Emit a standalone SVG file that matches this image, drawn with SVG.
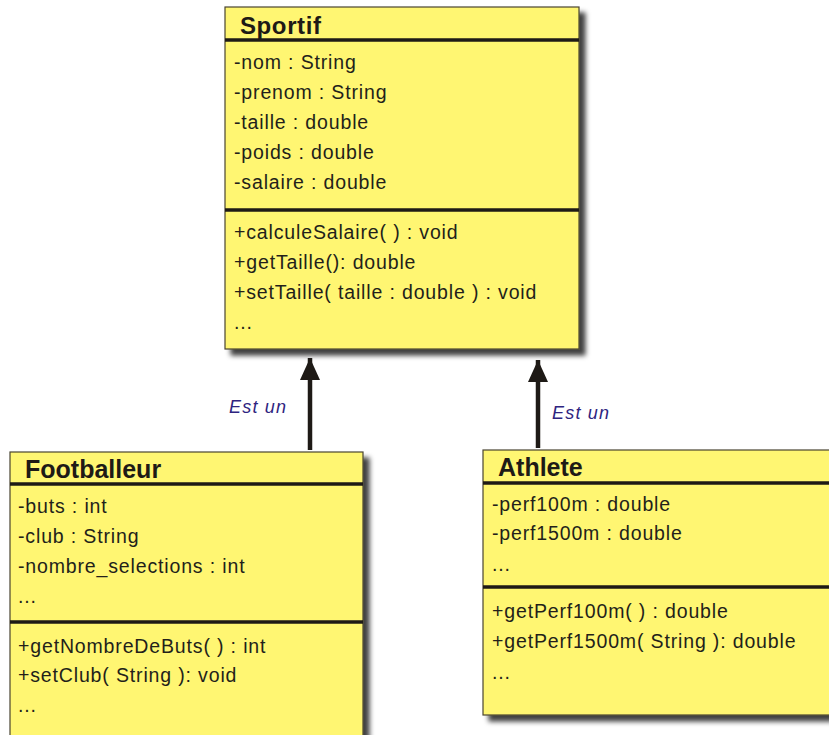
<svg xmlns="http://www.w3.org/2000/svg" width="829" height="735" viewBox="0 0 829 735">
<defs>
<filter id="sh" x="-5%" y="-5%" width="115%" height="115%">
<feDropShadow dx="6" dy="6" stdDeviation="2.5" flood-color="#000" flood-opacity="0.75"/>
</filter>
<marker id="tri" viewBox="0 0 22 20" refX="22" refY="10" markerWidth="22" markerHeight="20" markerUnits="userSpaceOnUse" orient="auto">
<path d="M0,0 L22,10 L0,20 Z" fill="#1e1a16"/>
</marker>
</defs>
<style>
.box{fill:#fff672;stroke:#4a4530;stroke-width:1.2}
.sep{stroke:#1e1a16;stroke-width:3.5}
.t{font-family:"Liberation Sans",Arial,sans-serif;font-size:19.5px;fill:#231f1a;letter-spacing:0.85px}
.h{font-family:"Liberation Sans",Arial,sans-serif;font-weight:bold;fill:#1e1a16}
.lbl{font-family:"Liberation Sans",Arial,sans-serif;font-size:18px;font-style:italic;fill:#2e2480;letter-spacing:1.2px}
.conn{stroke:#1e1a16;stroke-width:4.5;fill:none}
</style>
<g id="connectors">
<line class="conn" x1="310" y1="450" x2="310" y2="358" marker-end="url(#tri)"/>
<line class="conn" x1="538" y1="448" x2="538" y2="360" marker-end="url(#tri)"/>
<text class="lbl" x="229" y="413">Est un</text>
<text class="lbl" x="552" y="419">Est un</text>
</g>
<g id="sportif">
<rect class="box" x="225" y="7" width="354" height="342" filter="url(#sh)"/>
<line class="sep" x1="225" y1="40" x2="579" y2="40"/>
<line class="sep" x1="225" y1="210" x2="579" y2="210"/>
<text class="h" x="240" y="34" font-size="24" letter-spacing="0.6">Sportif</text>
<text class="t" x="234" y="69">-nom : String</text>
<text class="t" x="234" y="99">-prenom : String</text>
<text class="t" x="234" y="129">-taille : double</text>
<text class="t" x="234" y="159">-poids : double</text>
<text class="t" x="234" y="189">-salaire : double</text>
<text class="t" x="234" y="239">+calculeSalaire( ) : void</text>
<text class="t" x="234" y="269">+getTaille(): double</text>
<text class="t" x="234" y="299">+setTaille( taille : double ) : void</text>
<text class="t" x="234" y="329">...</text>
</g>
<g id="footballeur">
<rect class="box" x="10" y="452" width="353" height="300" filter="url(#sh)"/>
<line class="sep" x1="10" y1="484" x2="363" y2="484"/>
<line class="sep" x1="10" y1="622" x2="363" y2="622"/>
<text class="h" x="25" y="478" font-size="25">Footballeur</text>
<text class="t" x="18" y="513">-buts : int</text>
<text class="t" x="18" y="543">-club : String</text>
<text class="t" x="18" y="573">-nombre_selections : int</text>
<text class="t" x="18" y="603">...</text>
<text class="t" x="18" y="653">+getNombreDeButs( ) : int</text>
<text class="t" x="18" y="682">+setClub( String ): void</text>
<text class="t" x="18" y="712">...</text>
</g>
<g id="athlete">
<rect class="box" x="483" y="450" width="360" height="265" filter="url(#sh)"/>
<line class="sep" x1="483" y1="483" x2="843" y2="483"/>
<line class="sep" x1="483" y1="587" x2="843" y2="587"/>
<text class="h" x="498" y="476" font-size="25">Athlete</text>
<text class="t" x="492" y="511">-perf100m : double</text>
<text class="t" x="492" y="540">-perf1500m : double</text>
<text class="t" x="492" y="571">...</text>
<text class="t" x="492" y="618">+getPerf100m( ) : double</text>
<text class="t" x="492" y="648">+getPerf1500m( String ): double</text>
<text class="t" x="492" y="679">...</text>
</g>
</svg>
